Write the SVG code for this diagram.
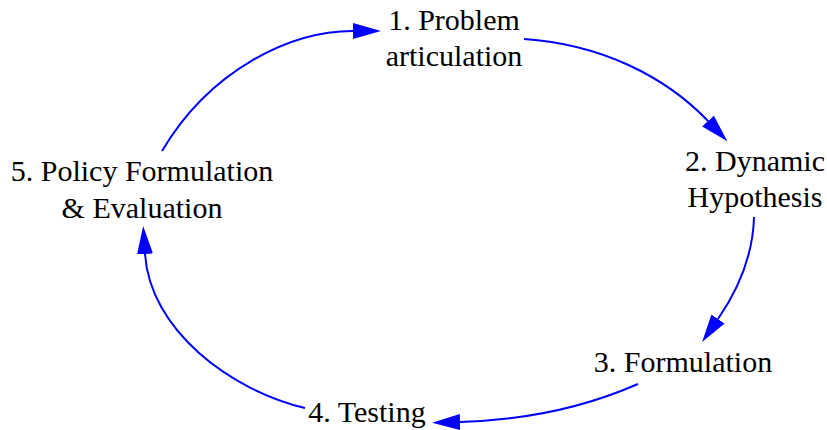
<svg xmlns="http://www.w3.org/2000/svg" width="827" height="430" viewBox="0 0 827 430">
  <style>
    .label { font-family: "Times New Roman", Times, "Liberation Serif", "DejaVu Serif", "Noto Serif", serif; font-size: 30px; fill: #000000; text-anchor: middle; }
    .edge { fill: none; stroke: #0000ff; stroke-width: 2; marker-end: url(#arrow); }
  </style>
  <defs>
    <marker id="arrow" viewBox="0 0 28 16" refX="0" refY="8" markerWidth="28" markerHeight="16" markerUnits="userSpaceOnUse" orient="auto">
      <path d="M0,0 L28,8 L0,16 z" fill="#0000ff"/>
    </marker>
  </defs>
  <rect width="827" height="430" fill="#ffffff"/>

  <!-- connectors -->
  <g id="edges">
    <path class="edge" d="M524,39 C600,44 665,76 708,121"/>
    <path class="edge" d="M754,217 C753,255 738,290 718,319"/>
    <path class="edge" d="M638,384 C590,405 530,420 460,422"/>
    <path class="edge" d="M305,408 C230,390 150,330 145,254"/>
    <path class="edge" d="M162,151 C210,70 290,31 353,31"/>
  </g>

  <!-- nodes -->
  <g id="node1">
    <text class="label" x="454" y="30">1. Problem</text>
    <text class="label" x="454" y="66">articulation</text>
  </g>
  <g id="node2">
    <text class="label" x="755" y="171">2. Dynamic</text>
    <text class="label" x="755" y="207">Hypothesis</text>
  </g>
  <g id="node3">
    <text class="label" x="683" y="372">3. Formulation</text>
  </g>
  <g id="node4">
    <text class="label" x="367" y="422">4. Testing</text>
  </g>
  <g id="node5">
    <text class="label" x="142" y="181">5. Policy Formulation</text>
    <text class="label" x="142" y="218">&amp; Evaluation</text>
  </g>
</svg>
